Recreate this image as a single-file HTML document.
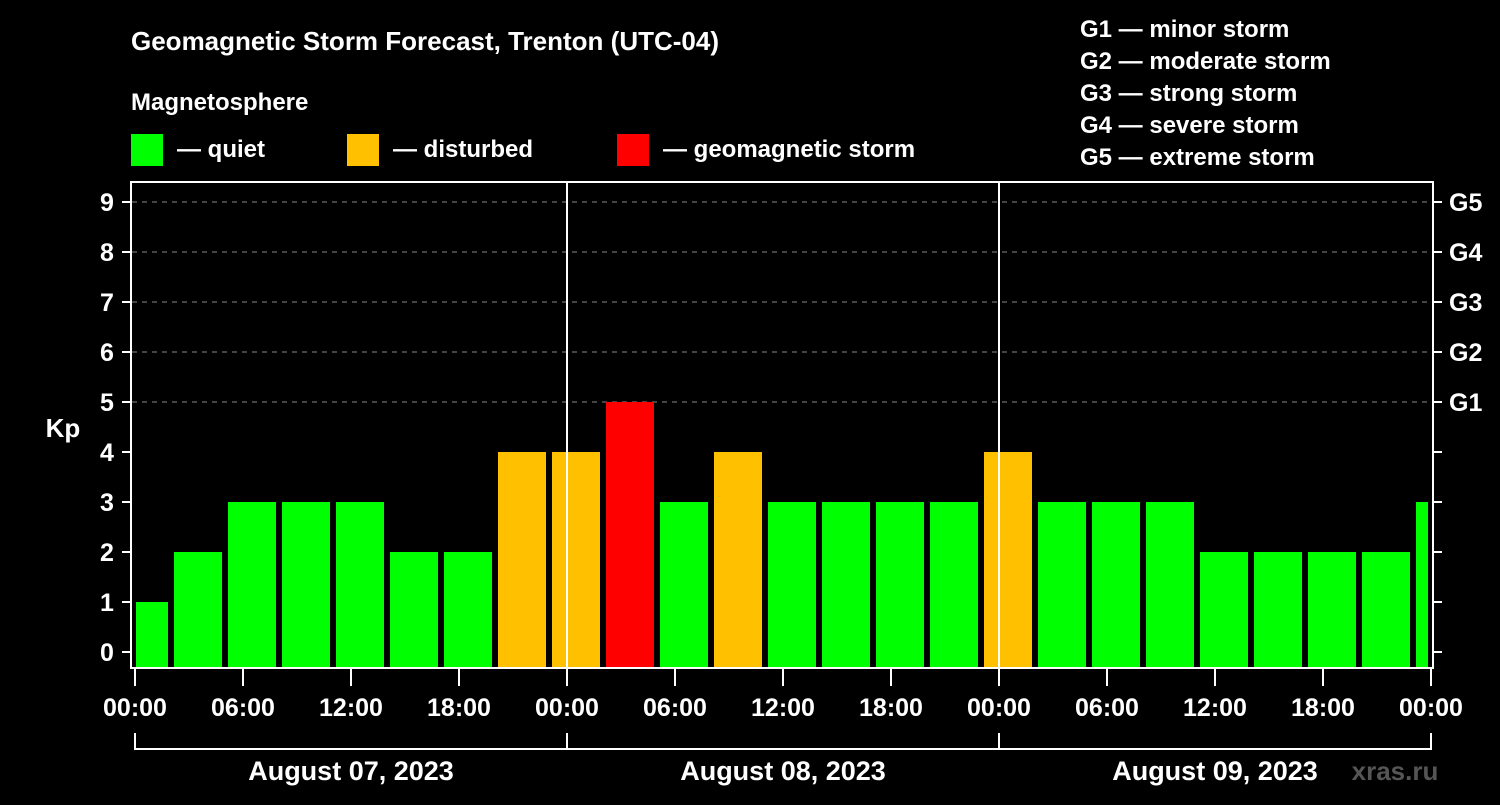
<!DOCTYPE html>
<html><head><meta charset="utf-8"><style>
body{margin:0;background:#000;width:1500px;height:800px;overflow:hidden}
svg text{font-family:"Liberation Sans",sans-serif;font-weight:bold;fill:#fff}
</style></head><body>
<svg id="c" width="1500" height="800" xmlns="http://www.w3.org/2000/svg">
<text x="131" y="50" font-size="26">Geomagnetic Storm Forecast, Trenton (UTC-04)</text>
<text x="131" y="110" font-size="24">Magnetosphere</text>
<rect x="131" y="134" width="32" height="32" fill="#00ff00"/>
<text x="177" y="157" font-size="24">— quiet</text>
<rect x="347" y="134" width="32" height="32" fill="#ffc000"/>
<text x="393" y="157" font-size="24">— disturbed</text>
<rect x="617" y="134" width="32" height="32" fill="#ff0000"/>
<text x="663" y="157" font-size="24">— geomagnetic storm</text>
<g font-size="24">
<text x="1080" y="37">G1 — minor storm</text>
<text x="1080" y="69">G2 — moderate storm</text>
<text x="1080" y="101">G3 — strong storm</text>
<text x="1080" y="133">G4 — severe storm</text>
<text x="1080" y="165">G5 — extreme storm</text>
</g>
<text x="63" y="437" font-size="26" text-anchor="middle">Kp</text>
<text x="1395" y="780" font-size="26" text-anchor="middle" style="fill:#555">xras.ru</text>
<g id="g"></g>
</svg>
<script>
const kpValues=[1,2,3,3,3,2,2,4,4,5,3,4,3,3,3,3,4,3,3,3,2,2,2,2,3];
const startHour=-1; // local hour of first bar start (relative to Aug 07 00:00)
const barHours=3;
const dayLabels=["August 07, 2023","August 08, 2023","August 09, 2023"];
const timeTicks=["00:00","06:00","12:00","18:00","00:00","06:00","12:00","18:00","00:00","06:00","12:00","18:00","00:00"];
const yTicks=[0,1,2,3,4,5,6,7,8,9];
const gLabels=["G1","G2","G3","G4","G5"];
const NS="http://www.w3.org/2000/svg",g=document.getElementById('g');
const X0=135,PXH=18,XMAX=1431;
const x=h=>X0+h*PXH, y=v=>652-v*50;
function el(t,a,txt){const e=document.createElementNS(NS,t);for(const k in a)e.setAttribute(k,a[k]);if(txt!==undefined)e.textContent=txt;g.appendChild(e);return e;}
// grid
[5,6,7,8,9].forEach(v=>{const e=el('line',{x1:132,x2:1432,y1:y(v),y2:y(v),stroke:'#888','stroke-dasharray':'5,5','stroke-width':1});

});
// bars
kpValues.forEach((v,i)=>{let a=x(startHour+i*barHours)+3,b=x(startHour+(i+1)*barHours)-3;a=Math.max(a,X0+1);b=Math.min(b,XMAX-3);
const c=v>=5?'#ff0000':v>=4?'#ffc000':'#00ff00';
const r=el('rect',{x:a,y:y(v),width:b-a,height:668-y(v),fill:c});

});
// day separators
[1,2].forEach(d=>{const e=el('line',{x1:x(24*d),x2:x(24*d),y1:182,y2:668,stroke:'#fff','stroke-width':2});

});
// frame
const f=el('rect',{x:131,y:182,width:1302,height:486,fill:'none',stroke:'#fff','stroke-width':2});


// y ticks
yTicks.forEach(v=>{el('line',{x1:122,x2:131,y1:y(v),y2:y(v),stroke:'#fff','stroke-width':2});el('line',{x1:1433,x2:1442,y1:y(v),y2:y(v),stroke:'#fff','stroke-width':2});
const t=el('text',{x:107,y:y(v)+9,'font-size':25,'text-anchor':'middle'},v);

});
gLabels.forEach((s,i)=>{const t=el('text',{x:1449,y:y(5+i)+9,'font-size':25},s);

});
// x ticks
timeTicks.forEach((s,i)=>{const xx=x(i*6);el('line',{x1:xx,x2:xx,y1:668,y2:686,stroke:'#fff','stroke-width':2});
const t=el('text',{x:xx,y:716,'font-size':25,'text-anchor':'middle'},s);

});
// day bracket
el('line',{x1:X0,x2:XMAX,y1:749,y2:749,stroke:'#fff','stroke-width':2});
[0,1,2,3].forEach(d=>el('line',{x1:x(24*d),x2:x(24*d),y1:733,y2:750,stroke:'#fff','stroke-width':2}));
dayLabels.forEach((s,i)=>{const t=el('text',{x:x(24*i+12),y:780,'font-size':27,'text-anchor':'middle'},s);

});
</script>
</body></html>
